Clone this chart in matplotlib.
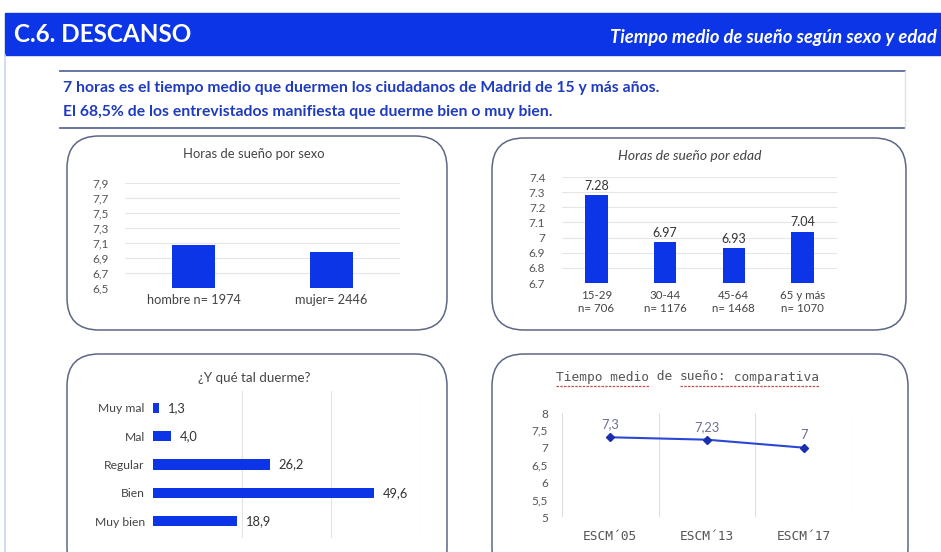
import matplotlib

matplotlib.use("Agg")
import matplotlib.pyplot as plt
from matplotlib.patches import FancyBboxPatch, Rectangle
from matplotlib.ticker import FuncFormatter

plt.rcParams["font.family"] = ["Lato", "DejaVu Sans"]

W, H = 941, 552
BLUE = "#0b35e6"
GRAY = "#555555"

# --- data ---
sex_labels = ["hombre n= 1974", "mujer= 2446"]
sex_hours = [7.08, 6.98]

age_labels = ["15-29\nn= 706", "30-44\nn= 1176", "45-64\nn= 1468", "65 y más\nn= 1070"]
age_hours = [7.28, 6.97, 6.93, 7.04]

quality_labels = ["Muy mal", "Mal", "Regular", "Bien", "Muy bien"]
quality_pct = [1.3, 4.0, 26.2, 49.6, 18.9]

survey_labels = ["ESCM´05", "ESCM´13", "ESCM´17"]
survey_hours = [7.3, 7.23, 7.0]
survey_text = ["7,3", "7,23", "7"]


def comma(v, _=None, nd=1):
    return f"{v:.{nd}f}".replace(".", ",")


def px_axes(fig, x0, y0, x1, y1):
    """Axes from pixel box (top-left origin)."""
    return fig.add_axes([x0 / W, 1 - y1 / H, (x1 - x0) / W, (y1 - y0) / H])


fig = plt.figure(figsize=(W / 100, H / 100), dpi=100)
bg = fig.add_axes([0, 0, 1, 1])
bg.set_xlim(0, W)
bg.set_ylim(H, 0)
bg.axis("off")

# header
bg.add_patch(Rectangle((5, 13), W - 5, 42, color=BLUE, zorder=1))
bg.text(14, 35, "C.6. DESCANSO", color="white", fontsize=17.5, fontweight="bold", va="center")
bg.text(937, 37, "Tiempo medio de sueño según sexo y edad", color="white", fontsize=13.2,
        fontweight="bold", style="italic", va="center", ha="right")
bg.plot([5.5, 5.5], [55, H], color="#c9d5f2", lw=1.2)

# summary box
bg.plot([60, 905], [71, 71], color="#5a6a98", lw=1.3)
bg.plot([60, 905], [128, 128], color="#5a6a98", lw=1.3)
bg.plot([905, 905], [71, 128], color="#dfe3ec", lw=1)
bg.text(63, 88, "7 horas es el tiempo medio que duermen los ciudadanos de Madrid de 15 y más años.",
        color="#1f3bbf", fontsize=11.3, fontweight="bold", va="center")
bg.text(63, 112, "El 68,5% de los entrevistados manifiesta que duerme bien o muy bien.",
        color="#1f3bbf", fontsize=11.3, fontweight="bold", va="center")

# rounded panels
for x0, y0, x1, y1 in [(67, 136, 447, 330), (492, 138, 906, 330),
                       (67, 354, 447, 580), (492, 354, 908, 580)]:
    bg.add_patch(FancyBboxPatch((x0, y0), x1 - x0, y1 - y0,
                                boxstyle="round,pad=0,rounding_size=32",
                                fc="white", ec="#5d6684", lw=1.1, zorder=0))


def style(ax):
    for s in ax.spines.values():
        s.set_visible(False)
    ax.tick_params(length=0, labelsize=8.5, labelcolor=GRAY)
    ax.set_facecolor("none")


# --- horas por sexo ---
bg.text(254, 154, "Horas de sueño por sexo", fontsize=9.4, color="#444", ha="center", va="center")
ax = px_axes(fig, 125, 183, 400, 288)
style(ax)
ax.bar(range(len(sex_hours)), [v - 6.5 for v in sex_hours], bottom=6.5, width=0.31, color=BLUE, zorder=3)
ax.set_xlim(-0.5, 1.5)
ax.set_ylim(6.5, 7.9)
ax.set_yticks([6.5, 6.7, 6.9, 7.1, 7.3, 7.5, 7.7, 7.9])
ax.yaxis.set_major_formatter(FuncFormatter(comma))
ax.grid(axis="y", color="#e6e6e6", lw=0.8, zorder=0)
ax.set_xticks(range(len(sex_labels)))
ax.set_xticklabels(sex_labels, fontsize=9.2, color="#444")
ax.tick_params(axis="x", pad=4)
ax.tick_params(axis="y", pad=12)

# --- horas por edad ---
bg.text(690, 156, "Horas de sueño por edad", fontsize=10, color="#444", ha="center", va="center",
        style="italic")
ax = px_axes(fig, 562, 177, 837, 283)
style(ax)
ax.bar(range(len(age_hours)), [v - 6.7 for v in age_hours], bottom=6.7, width=0.33, color=BLUE, zorder=3)
for i, v in enumerate(age_hours):
    ax.text(i, v + 0.02, f"{v:.2f}", ha="center", va="bottom", fontsize=9, color="#333")
ax.set_xlim(-0.5, 3.5)
ax.set_ylim(6.7, 7.4)
ax.set_yticks([6.7, 6.8, 6.9, 7.0, 7.1, 7.2, 7.3, 7.4])
ax.yaxis.set_major_formatter(FuncFormatter(lambda v, _: f"{v:g}"))
ax.grid(axis="y", color="#e6e6e6", lw=0.8, zorder=0)
ax.set_xticks(range(len(age_labels)))
ax.set_xticklabels(age_labels, fontsize=8.3, color="#444", linespacing=1.2)
ax.tick_params(axis="x", pad=5)
ax.tick_params(axis="y", pad=12)

# --- ¿Y qué tal duerme? ---
bg.text(254, 378, "¿Y qué tal duerme?", fontsize=9.6, color="#444", ha="center", va="center")
ax = px_axes(fig, 153, 391, 420, 538)
style(ax)
ax.barh(range(len(quality_pct)), quality_pct, height=0.36, color=BLUE, zorder=3)
for i, v in enumerate(quality_pct):
    ax.text(v + 2, i, comma(v), va="center", ha="left", fontsize=9.3, color="#333")
ax.set_xlim(0, 60)
ax.set_ylim(4.6, -0.6)
ax.set_xticks([20, 40, 60])
ax.set_xticklabels([])
ax.grid(axis="x", color="#e3e3e3", lw=0.8, zorder=0)
ax.set_yticks(range(len(quality_labels)))
ax.set_yticklabels(quality_labels, fontsize=8.7, color="#444")
ax.tick_params(axis="y", pad=6)

# --- comparativa ---
title_parts = [("Tiempo medio", True), (" de ", False), ("sueño:", True), (" comparativa", True)]
fig.canvas.draw()
renderer = fig.canvas.get_renderer()
x = 556
for part, underline in title_parts:
    t = bg.text(x, 377, part, fontsize=9.3, color="#555", ha="left", va="center",
                family="DejaVu Sans Mono")
    wpx = t.get_window_extent(renderer).width
    if underline:
        bg.plot([x, x + wpx], [386, 386], color="#c0504d", lw=0.9, ls=(0, (2, 1)))
    x += wpx

ax = px_axes(fig, 562, 413, 852, 517)
style(ax)
ax.plot(range(len(survey_hours)), survey_hours, color="#2a47d6", lw=1.5, marker="D",
        markersize=4, markerfacecolor="#1a2fb0", markeredgecolor="#1a2fb0", zorder=3)
for i, (v, s) in enumerate(zip(survey_hours, survey_text)):
    ax.text(i, v + 0.2, s, ha="center", va="bottom", fontsize=9.3, color="#6a7090")
ax.set_xlim(-0.5, 2.5)
ax.set_ylim(5, 8)
ax.set_yticks([5, 5.5, 6, 6.5, 7, 7.5, 8])
ax.yaxis.set_major_formatter(FuncFormatter(lambda v, _: f"{v:g}".replace(".", ",")))
ax.set_xticks(range(len(survey_labels)))
ax.set_xticklabels(survey_labels, fontsize=9.3, color="#555", family="DejaVu Sans Mono")
ax.tick_params(axis="y", pad=10)
ax.tick_params(axis="x", pad=9)
for xb in [-0.5, 0.5, 1.5, 2.5]:
    ax.axvline(xb, color="#e0e0e0", lw=0.8, zorder=0)

fig.savefig("out.png", dpi=100)
